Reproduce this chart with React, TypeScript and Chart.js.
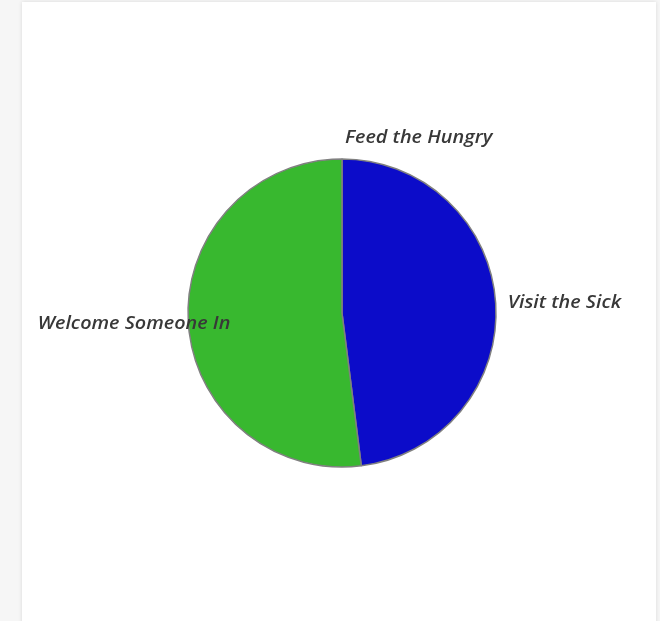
import React, { useEffect, useRef } from "react";
import { Chart, registerables } from "chart.js";

Chart.register(...registerables);

const categories = ["Feed the Hungry", "Visit the Sick", "Welcome Someone In"];
const values = [0, 12, 13];
const colors = ["#e8a317", "#0c0cc9", "#38b82f"];

const labelPlugin = {
  id: "outerLabels",
  afterDatasetsDraw(chart: any, _args: any, opts: any) {
    const ctx = chart.ctx;
    const meta = chart.getDatasetMeta(0);
    ctx.save();
    ctx.font = opts.font;
    ctx.fillStyle = opts.color;
    ctx.textBaseline = "middle";
    ctx.textAlign = "left";
    meta.data.forEach((arc: any, i: number) => {
      const p = arc.getProps(["x", "y", "startAngle", "endAngle", "outerRadius"], true);
      const mid = (p.startAngle + p.endAngle) / 2;
      const r = p.outerRadius + opts.distance;
      const ax = p.x + Math.cos(mid) * r;
      const ay = p.y + Math.sin(mid) * r;
      const off = opts.offsets[i] || [0, 0];
      const label = chart.data.labels[i];
      const w = ctx.measureText(label).width * opts.stretch;
      let x = ax + off[0];
      if (Math.cos(mid) < -0.3) x = ax - w + off[0];
      ctx.save();
      ctx.translate(x, ay + off[1]);
      ctx.scale(opts.stretch, 1);
      ctx.fillText(label, 0, 0);
      ctx.restore();
    });
    ctx.restore();
  },
};

export default function App() {
  const ref = useRef<HTMLCanvasElement | null>(null);
  useEffect(() => {
    if (!ref.current) return;
    const chart = new Chart(ref.current, {
      type: "pie",
      data: {
        labels: categories,
        datasets: [
          {
            data: values,
            backgroundColor: colors,
            borderColor: "#808080",
            borderWidth: 1.5,
          },
        ],
      },
      options: {
        responsive: false,
        animation: false,
        radius: 154,
        layout: { padding: { left: 6, top: 3 } },
        plugins: {
          legend: { display: false },
          tooltip: { enabled: false },
          outerLabels: {
            font: "italic 600 17.5px 'Open Sans'",
            color: "#383838",
            distance: 12,
            stretch: 1.13,
            offsets: [[3, -9], [0, 0], [54, 1]],
          },
        } as any,
      },
      plugins: [labelPlugin],
    });
    return () => chart.destroy();
  }, []);
  return (
    <div
      style={{
        position: "fixed",
        left: 0,
        top: 0,
        width: 660,
        height: 621,
        background: "#f6f6f6",
        overflow: "hidden",
      }}
    >
      <div
        style={{
          position: "absolute",
          left: 22,
          top: 2,
          width: 634,
          height: 640,
          background: "#ffffff",
          boxShadow: "0 0 4px rgba(0,0,0,0.12)",
        }}
      >
        <canvas ref={ref} width={634} height={619} style={{ display: "block" }} />
      </div>
    </div>
  );
}
